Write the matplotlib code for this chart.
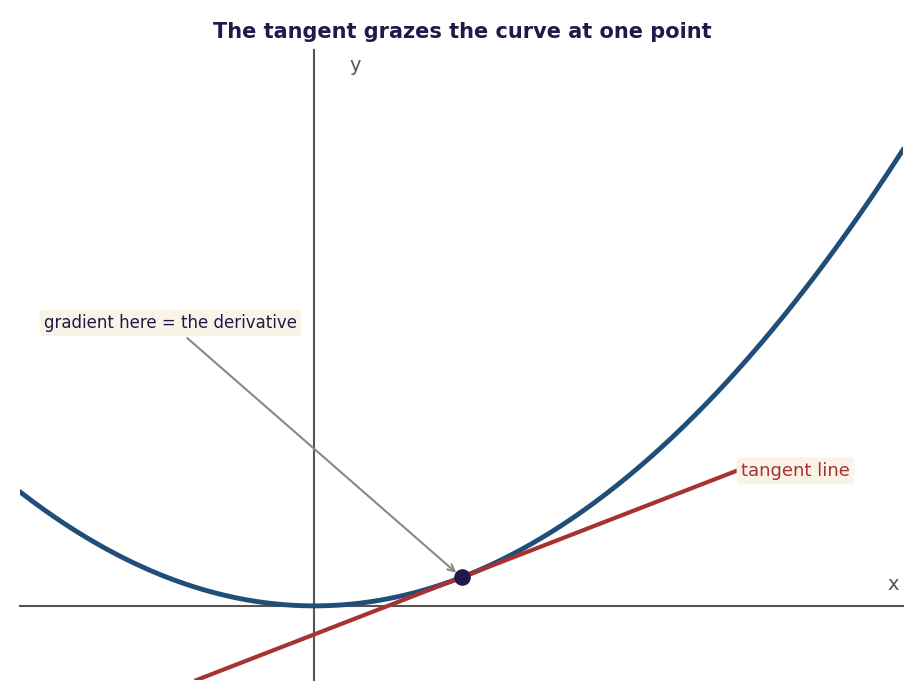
import numpy as np
import matplotlib
matplotlib.use("Agg")
import matplotlib.pyplot as plt

x_range = [-2.0, 4.0]
y_range = [-1.3, 9.75]
coef = 0.5          # y = coef * x^2
x0 = 1.0            # tangent point
tangent_x = [-0.8, 2.87]
title = "The tangent grazes the curve at one point"
annot_text = "gradient here = the derivative"
annot_pos = [-0.98, 4.96]
tangent_label = "tangent line"

fig = plt.figure(figsize=(9.24, 7), dpi=100)
ax = fig.add_axes([20/924, 20/700, 883/924, 630/700])
xs = np.linspace(x_range[0], x_range[1], 400)
ax.plot(xs, coef*xs**2, color="#1f4e79", lw=3.5, zorder=3)
y0 = coef*x0**2
m = 2*coef*x0
tx = np.array(tangent_x)
ax.plot(tx, y0 + m*(tx - x0), color="#a83232", lw=3, zorder=3)
ax.scatter([x0], [y0], s=120, color="#1f1a4a", zorder=5)
ax.text(tx[1] + 0.03, y0 + m*(tx[1]-x0), tangent_label, color="#a83232", fontsize=13,
        va="center", ha="left",
        bbox=dict(boxstyle="round,pad=0.25", fc="#faf4e8", ec="none"))
ax.annotate(annot_text, xy=(x0, y0), xytext=annot_pos, ha="center", va="center",
            fontsize=12, color="#1f1a4a",
            bbox=dict(boxstyle="round,pad=0.25", fc="#faf4e8", ec="none"),
            arrowprops=dict(arrowstyle="->", color="#888888", lw=1.5, shrinkB=5))
ax.set_xlim(*x_range)
ax.set_ylim(*y_range)
for s in ["top", "right"]:
    ax.spines[s].set_visible(False)
ax.spines["left"].set_position(("data", 0))
ax.spines["bottom"].set_position(("data", 0))
for s in ["left", "bottom"]:
    ax.spines[s].set_color("#555555")
    ax.spines[s].set_linewidth(1.5)
ax.set_xticks([]); ax.set_yticks([])
ax.text(0.24, y_range[1] - 0.1, "y", fontsize=14, color="#555555", ha="left", va="top")
ax.text(3.97, 0.2, "x", fontsize=14, color="#555555", ha="right", va="bottom")
fig.text(0.5, 0.955, title, ha="center", va="center", fontsize=15, fontweight="bold", color="#1f1a4a")
fig.savefig("out.png", dpi=100)
